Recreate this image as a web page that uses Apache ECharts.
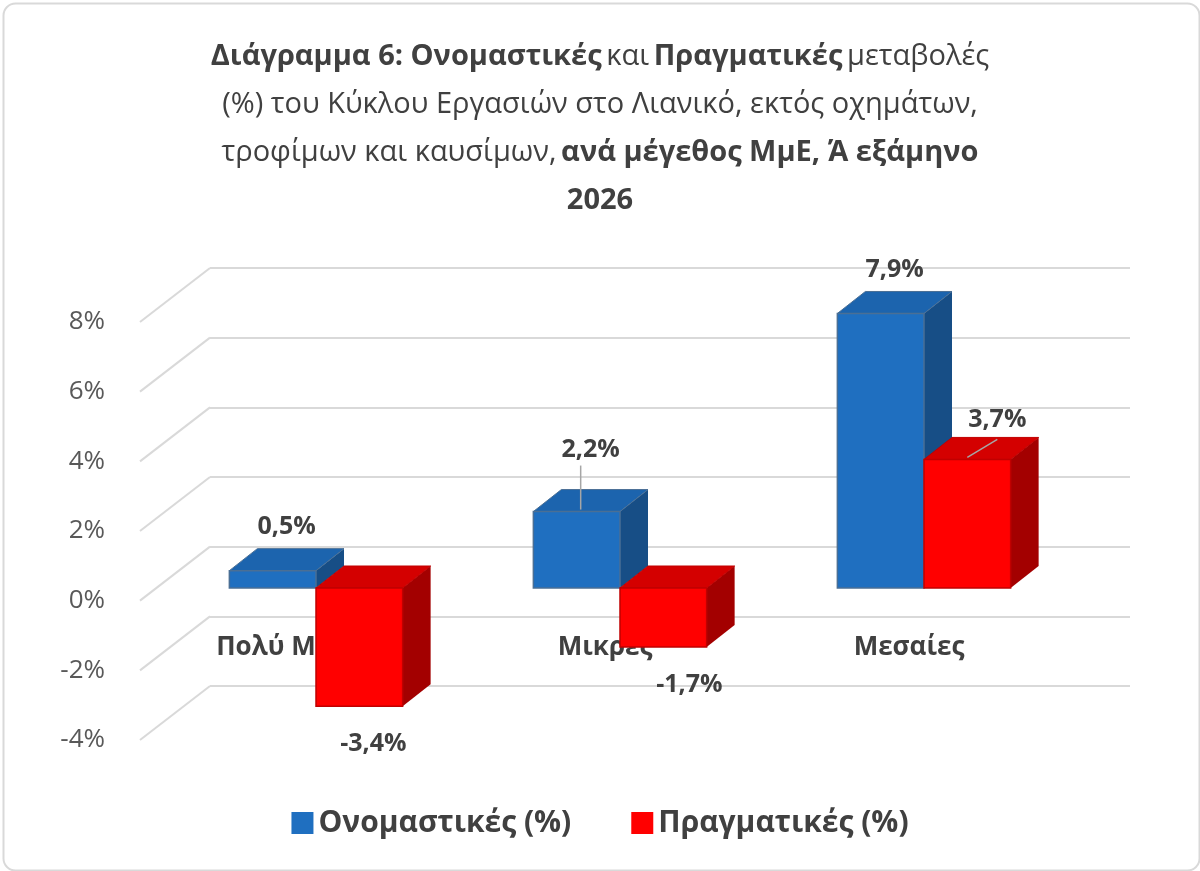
<!DOCTYPE html>
<html><head><meta charset="utf-8">
<script src="https://cdn.jsdelivr.net/npm/echarts@6/dist/echarts.min.js"></script>
<style>html,body{margin:0;background:#fff}#c{width:1200px;height:871px}</style>
</head><body><div id="c"></div>
<script>
const categories = ['Πολύ Μικρές', 'Μικρές', 'Μεσαίες'];
const nominal = [0.5, 2.2, 7.9];
const real = [-3.4, -1.7, 3.7];
const yTicks = [-4, -2, 0, 2, 4, 6, 8];
const seriesNames = ['Ονομαστικές (%)', 'Πραγματικές (%)'];

const FONT = 'Open Sans';
const DX = 28, DY = -22;
const faces = [
  {front: '#1f6fc0', top: '#1c64ae', side: '#174e86', stroke: '#4a6f95'},
  {front: '#ff0000', top: '#d40000', side: '#a30000', stroke: '#c00000'}
];
function fmt(v){ return v.toFixed(1).replace('.', ',') + '%'; }
function barRender(si){
  return function(params, api){
    const cat = api.value(0), val = api.value(1);
    const p0 = api.coord([cat, 0]), p1 = api.coord([cat, val]);
    const band = api.size([1, 0])[0];
    const w = band * 0.285;
    const x0 = si === 0 ? p0[0] - w : p0[0];
    const x1 = x0 + w;
    const yt = Math.min(p0[1], p1[1]), yb = Math.max(p0[1], p1[1]);
    const f = faces[si];
    const ch = [
      {type:'polygon', shape:{points:[[x1,yt],[x1+DX,yt+DY],[x1+DX,yb+DY],[x1,yb]]}, style:{fill:f.side}},
      {type:'polygon', shape:{points:[[x0,yt],[x0+DX,yt+DY],[x1+DX,yt+DY],[x1,yt]]}, style:{fill:f.top, stroke:f.stroke, lineWidth:1}},
      {type:'rect', shape:{x:x0, y:yt, width:w, height:yb-yt}, style:{fill:f.front, stroke:f.stroke, lineWidth:1.5}}
    ];
    const cx = x0 + w/2 + DX/2;
    const font = 'bold 25px "'+FONT+'"';
    if (val >= 0) {
      let ly = yt + DY - 22, lx = cx;
      if (si === 0 && cat === 1) { ly = yt - 62; ch.push({type:'line', shape:{x1:x0+w/2+4, y1:yt-2, x2:x0+w/2+4, y2:ly+16}, style:{stroke:'#a6a6a6', lineWidth:1.5}}); }
      if (si === 1 && val > 3) { ly = yt - 40; lx = x0+w/2+30; ch.push({type:'line', shape:{x1:x0+w/2, y1:yt-2, x2:x0+w/2+30, y2:yt-20}, style:{stroke:'#a6a6a6', lineWidth:1.5}}); }
      ch.push({type:'text', x: lx, y: ly, style:{text: fmt(val), font: font, fill:'#404040', align:'center', verticalAlign:'middle'}});
    } else {
      ch.push({type:'text', x: cx + (cat===1?12:0), y: yb + 38, style:{text: fmt(val), font: font, fill:'#404040', align:'center', verticalAlign:'middle'}});
    }
    return {type:'group', children: ch};
  };
}

const chart = echarts.init(document.getElementById('c'));
chart.setOption({
  backgroundColor: '#fff',
  animation: false,
  textStyle: {fontFamily: FONT},
  title: {
    left: 'center', top: 28,
    text: '{b|Διάγραμμα 6: Ονομαστικές} {n|και} {b|Πραγματικές} {n|μεταβολές}\n{n|(%) του Κύκλου Εργασιών στο Λιανικό, εκτός οχημάτων,}\n{n|τροφίμων και καυσίμων,} {b|ανά μέγεθος ΜμΕ, Ά εξάμηνο}\n{b|2026}',
    textStyle: {
      fontWeight: 'normal',
      rich: {
        b: {fontFamily: FONT, fontSize: 29, fontWeight: 'bold', color: '#404040', lineHeight: 48},
        n: {fontFamily: FONT, fontSize: 29, fontWeight: 'normal', color: '#404040', lineHeight: 48}
      }
    }
  },
  legend: {
    bottom: 28, left: 'center', itemWidth: 22, itemHeight: 22, itemGap: 60, icon: 'rect',
    textStyle: {fontSize: 30, fontWeight: 'bold', color: '#404040', fontFamily: FONT},
    data: seriesNames
  },
  grid: [
    {left: 210, right: 70, top: 268, bottom: 185},
    {left: 140, right: 70, top: 322, bottom: 131},
    {left: 164, right: 124, top: 310, bottom: 144}
  ],
  xAxis: [
    {gridIndex: 0, type: 'value', min: 0, max: 1, show: false},
    {gridIndex: 1, type: 'value', min: 0, max: 1, show: false},
    {gridIndex: 2, type: 'category', data: categories, offset: -120, axisLine: {show: false}, axisTick: {show: false},
     axisLabel: {fontSize: 26, fontWeight: 'bold', color: '#404040', margin: 28, padding: [0, 30, 0, 0], fontFamily: FONT}}
  ],
  yAxis: [
    {gridIndex: 0, type: 'value', min: -4, max: 8, interval: 2, axisLabel: {show: false}, axisLine: {show: false}, axisTick: {show: false},
     splitLine: {lineStyle: {color: '#d9d9d9', width: 2}}},
    {gridIndex: 1, type: 'value', min: -4, max: 8, interval: 2, axisLine: {show: false}, axisTick: {show: false}, splitLine: {show: false},
     axisLabel: {fontSize: 26, color: '#595959', margin: 35, formatter: v => v + '%', fontFamily: FONT}},
    {gridIndex: 2, type: 'value', min: -4, max: 8, show: false}
  ],
  series: [
    {type: 'custom', xAxisIndex: 1, yAxisIndex: 1, silent: true, data: yTicks.map(v => [0, v]),
     renderItem: function(params, api){
       const p = api.coord([0, api.value(1)]);
       return {type: 'line', shape: {x1: p[0], y1: p[1], x2: p[0] + 70, y2: p[1] - 54}, style: {stroke: '#d9d9d9', lineWidth: 2}};
     }},
    {name: seriesNames[0], type: 'custom', xAxisIndex: 2, yAxisIndex: 2, itemStyle: {color: faces[0].front},
     data: nominal.map((v, i) => [i, v]), renderItem: barRender(0)},
    {name: seriesNames[1], type: 'custom', xAxisIndex: 2, yAxisIndex: 2, itemStyle: {color: faces[1].front},
     data: real.map((v, i) => [i, v]), renderItem: barRender(1)}
  ],
  graphic: [{type: 'rect', left: 1, top: 1, shape: {width: 1196, height: 867, r: 12}, style: {fill: 'none', stroke: '#d9d9d9', lineWidth: 2}}]
});
</script></body></html>
